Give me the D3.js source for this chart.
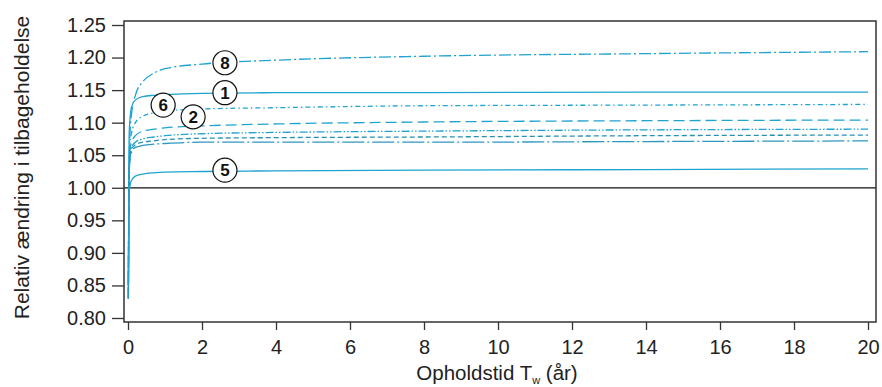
<!DOCTYPE html>
<html>
<head>
<meta charset="utf-8">
<script src="https://cdn.jsdelivr.net/npm/d3@7"></script>
<style>
  body { margin:0; background:#fff; }
  text { font-family: "Liberation Sans", Arial, sans-serif; }
</style>
</head>
<body>
<div id="chart"></div>
<script>
// residence time grid (years)
var tGrid = [0.01, 0.03, 0.06, 0.1, 0.2, 0.4, 0.7, 1, 2, 4, 8, 14, 20];

// relative change per scenario
var s8 = [0.83, 1.04, 1.09, 1.115, 1.142, 1.163, 1.176, 1.183, 1.190, 1.196, 1.202, 1.206, 1.209];
var s1 = [0.85, 1.08, 1.11, 1.125, 1.135, 1.140, 1.142, 1.143, 1.145, 1.146, 1.146, 1.147, 1.147];
var s6 = [0.83, 1.04, 1.07, 1.085, 1.100, 1.110, 1.115, 1.118, 1.121, 1.123, 1.126, 1.127, 1.128];
var s2 = [0.83, 1.03, 1.06, 1.070, 1.080, 1.087, 1.090, 1.092, 1.095, 1.098, 1.101, 1.103, 1.104];
var s3 = [0.83, 1.03, 1.05, 1.062, 1.070, 1.075, 1.078, 1.080, 1.083, 1.085, 1.087, 1.089, 1.090];
var s4 = [0.84, 1.03, 1.05, 1.060, 1.066, 1.070, 1.072, 1.074, 1.076, 1.077, 1.078, 1.080, 1.081];
var s7 = [0.83, 1.02, 1.045, 1.055, 1.062, 1.065, 1.067, 1.068, 1.070, 1.070, 1.070, 1.071, 1.072];
var s5 = [0.85, 0.99, 1.005, 1.012, 1.018, 1.021, 1.023, 1.024, 1.025, 1.026, 1.027, 1.028, 1.029];

var seriesNames = ["8", "1", "6", "2", "3", "4", "7", "5"];
var seriesVals  = [s8, s1, s6, s2, s3, s4, s7, s5];
var seriesDash  = ["12,3,2,3", null, "5,3,1.5,3", "11,5", "8,2,1.5,2,1.5,2", "5,3", "22,3,2,3", null];
var seriesCol   = ["#1fa3d1", "#1fa3d1", "#1fa3d1", "#1fa3d1", "#1fa3d1", "#2a8fb5", "#2c97bf", "#1fa3d1"];

// circled labels: name, t, value
var labNames = ["8", "1", "6", "2", "5"];
var labT     = [2.62, 2.62, 0.95, 1.76, 2.62];
var labV     = [1.192, 1.146, 1.127, 1.109, 1.027];

var yTicks = [0.80, 0.85, 0.90, 0.95, 1.00, 1.05, 1.10, 1.15, 1.20, 1.25];
var xTicks = [0, 2, 4, 6, 8, 10, 12, 14, 16, 18, 20];

var W = 882, H = 387;
var svg = d3.select("#chart").append("svg").attr("width", W).attr("height", H);

var x = d3.scaleLinear().domain([0, 20]).range([128, 868]);
var y = d3.scaleLinear().domain([0.80, 1.25]).range([318, 25]);
var boxL = 124, boxR = 876, boxT = 21, boxB = 322;

// 1.00 reference line
svg.append("line")
  .attr("x1", boxL).attr("x2", boxR)
  .attr("y1", y(1)).attr("y2", y(1))
  .attr("stroke", "#111").attr("stroke-width", 1.3);

var line = d3.line()
  .x(function(d) { return x(d[0]); })
  .y(function(d) { return y(d[1]); })
  .curve(d3.curveMonotoneX);

seriesVals.forEach(function(vals, i) {
  var pts = tGrid.map(function(t, j) { return [t, vals[j]]; });
  svg.append("path")
    .attr("class", "curve s" + seriesNames[i])
    .attr("d", line(pts))
    .attr("fill", "none")
    .attr("stroke", seriesCol[i])
    .attr("stroke-width", 1.3)
    .attr("stroke-dasharray", seriesDash[i]);
});

// box
svg.append("rect")
  .attr("x", boxL).attr("y", boxT)
  .attr("width", boxR - boxL).attr("height", boxB - boxT)
  .attr("fill", "none").attr("stroke", "#333").attr("stroke-width", 1.5);

// axes
var yAxis = svg.append("g").attr("transform", "translate(" + boxL + ",0)")
  .call(d3.axisLeft(y).tickValues(yTicks).tickFormat(d3.format(".2f")).tickSize(12).tickSizeOuter(0).tickPadding(6));
var xAxis = svg.append("g").attr("transform", "translate(0," + boxB + ")")
  .call(d3.axisBottom(x).tickValues(xTicks).tickFormat(d3.format("d")).tickSize(8).tickSizeOuter(0).tickPadding(10));
[yAxis, xAxis].forEach(function(a) {
  a.select(".domain").remove();
  a.selectAll(".tick line").attr("stroke", "#333").attr("stroke-width", 1.3);
  a.selectAll(".tick text").attr("fill", "#222").style("font-size", "20px")
    .style("font-family", "'Liberation Sans', Arial, sans-serif");
});

// axis titles
svg.append("text")
  .attr("transform", "translate(29," + ((boxT + boxB) / 2 - 4) + ") rotate(-90)")
  .attr("text-anchor", "middle")
  .attr("fill", "#222").style("font-size", "21px")
  .text("Relativ ændring i tilbageholdelse");

var xt = svg.append("text")
  .attr("x", 497).attr("y", 380)
  .attr("text-anchor", "middle")
  .attr("fill", "#222").style("font-size", "20.5px");
xt.append("tspan").text("Opholdstid T");
xt.append("tspan").attr("dy", 4).style("font-size", "11px").text("w");
xt.append("tspan").attr("dy", -4).text(" (år)");

// circled labels
labNames.forEach(function(n, i) {
  var g = svg.append("g").attr("transform", "translate(" + x(labT[i]) + "," + y(labV[i]) + ")");
  g.append("circle").attr("r", 12).attr("fill", "#fff").attr("stroke", "#111").attr("stroke-width", 1.2);
  g.append("text").attr("text-anchor", "middle").attr("dy", "0.36em")
    .style("font-size", "17px").style("font-weight", "bold").attr("fill", "#111").text(n);
});
</script>
</body>
</html>
